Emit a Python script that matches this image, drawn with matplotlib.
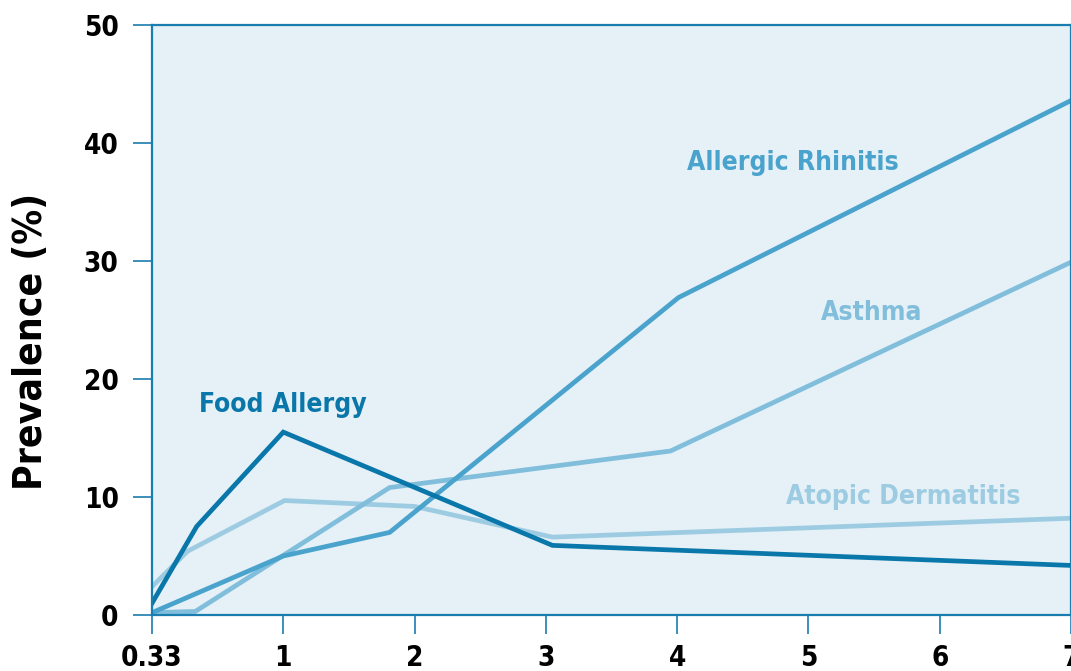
import matplotlib
matplotlib.use('Agg')
import matplotlib.pyplot as plt

# -----------------------------------------------------------------------------
# data (x positions on the age axis: 0 = 0.33 years, then 1..7)

tick_pos = [0, 1, 2, 3, 4, 5, 6, 7]
tick_labels = ['0.33', '1', '2', '3', '4', '5', '6', '7']

food_x = [0, 0.34, 1, 3.05, 7]
food_y = [1.0, 7.5, 15.5, 5.9, 4.2]

derm_x = [0, 0.27, 1.01, 2, 3.05, 7]
derm_y = [2.4, 5.4, 9.7, 9.2, 6.6, 8.2]

asthma_x = [0, 0.33, 1.81, 3.95, 7]
asthma_y = [0.2, 0.3, 10.8, 13.9, 29.9]

rhin_x = [0, 1, 1.81, 4.01, 7]
rhin_y = [0.2, 5.0, 7.0, 26.9, 43.6]

# -----------------------------------------------------------------------------
# style

c_food = '#0a77aa'
c_rhin = '#4aa3cc'
c_asth = '#80bedb'
c_derm = '#9dcce2'
c_axis = '#1a7db0'

plt.rcParams['font.family'] = ['DejaVu Sans']
plt.rcParams['font.weight'] = 'bold'
plt.rcParams['font.stretch'] = 'condensed'

fig = plt.figure(figsize=(10.71, 6.71), dpi=100)
ax = fig.add_axes([152/1071, 56/671, 919/1071, 590/671])
ax.set_facecolor('#e5f0f7')

lw = 3.4
ax.plot(derm_x, derm_y, color=c_derm, lw=lw, solid_joinstyle='miter')
ax.plot(asthma_x, asthma_y, color=c_asth, lw=lw, solid_joinstyle='miter')
ax.plot(rhin_x, rhin_y, color=c_rhin, lw=lw, solid_joinstyle='miter')
ax.plot(food_x, food_y, color=c_food, lw=lw, solid_joinstyle='miter')

lab_kw = dict(fontsize=19, ha='center', va='center', fontweight='bold',
              fontstretch='condensed')
ax.text(1.0, 17.8, 'Food Allergy', color=c_food, **lab_kw)
ax.text(4.88, 38.3, 'Allergic Rhinitis', color=c_rhin, **lab_kw)
ax.text(5.48, 25.6, 'Asthma', color=c_asth, **lab_kw)
ax.text(5.72, 10.0, 'Atopic Dermatitis', color=c_derm, **lab_kw)

ax.set_xlim(0, 7)
ax.set_ylim(0, 50)
ax.set_xticks(tick_pos)
ax.set_xticklabels(tick_labels)
ax.set_yticks([0, 10, 20, 30, 40, 50])

for s in ax.spines.values():
    s.set_color(c_axis)
    s.set_linewidth(1.6)

ax.tick_params(axis='x', direction='out', length=14, width=1.2, color=c_axis,
               pad=7, labelsize=20)
ax.tick_params(axis='y', direction='out', length=14, width=1.2, color=c_axis,
               pad=10, labelsize=20)
for lab in ax.get_xticklabels() + ax.get_yticklabels():
    lab.set_fontweight('bold')
    lab.set_fontstretch('condensed')

ax.set_ylabel('Prevalence (%)', fontsize=28, fontweight='bold',
              fontstretch='condensed')
ax.yaxis.set_label_coords(-0.111, 0.464)

fig.savefig('out.png', dpi=100)
